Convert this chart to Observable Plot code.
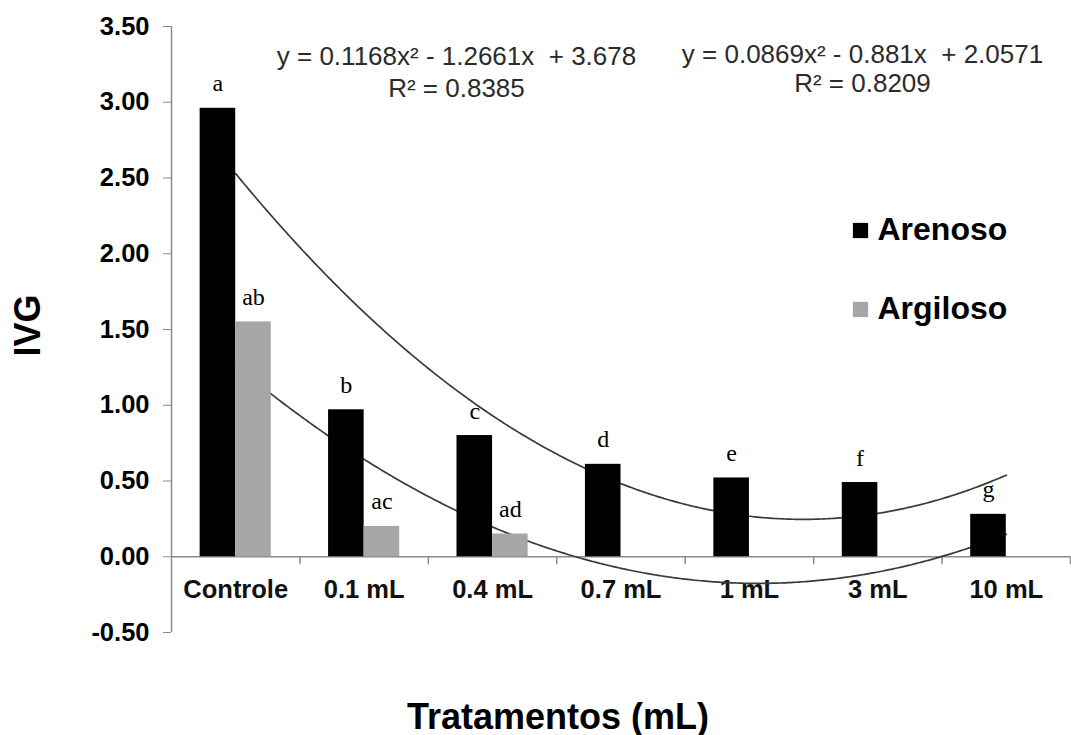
<!DOCTYPE html>
<html>
<head>
<meta charset="utf-8">
<script src="https://cdn.jsdelivr.net/npm/d3@7"></script>
<script src="https://cdn.jsdelivr.net/npm/@observablehq/plot@0.6"></script>
<style>
  html, body { margin: 0; padding: 0; background: #fff; }
  #chart svg { display: block; }
</style>
</head>
<body>
<div id="chart"></div>
<script>
// Treatments and IVG means for each soil type
const categories = ["Controle", "0.1 mL", "0.4 mL", "0.7 mL", "1 mL", "3 mL", "10 mL"];
const arenoso = [2.96, 0.97, 0.80, 0.61, 0.52, 0.49, 0.28];
const argiloso = [1.55, 0.20, 0.15, 0, 0, 0, 0];
const arenosoLetters = ["a", "b", "c", "d", "e", "f", "g"];
const argilosoLetters = ["ab", "ac", "ad", "", "", "", ""];
const seriesNames = ["Arenoso", "Argiloso"];
const seriesColors = ["#000000", "#a6a6a6"];
const yTicks = [-0.5, 0, 0.5, 1, 1.5, 2, 2.5, 3, 3.5];

// Quadratic trendlines [a, b, c] for y = a·x² + b·x + c, x = treatment index 1..7
const trendArenoso = [0.1168, -1.2661, 3.678];
const trendArgiloso = [0.0869, -0.881, 2.0571];
const eqArenoso = ["y = 0.1168x² - 1.2661x  + 3.678", "R² = 0.8385"];
const eqArgiloso = ["y = 0.0869x² - 0.881x  + 2.0571", "R² = 0.8209"];

// Each bar takes this share of a category slot; the pair meets at the slot centre
const barShare = 0.277;

const bars = categories.flatMap((c, i) => [
  {series: "Arenoso", pos: i + 1, x1: i + 1 - barShare, x2: i + 1, value: arenoso[i], letter: arenosoLetters[i]},
  {series: "Argiloso", pos: i + 1, x1: i + 1, x2: i + 1 + barShare, value: argiloso[i], letter: argilosoLetters[i]}
]);
const labels = bars.filter(d => d.letter);

const curve = ([a, b, c]) => d3.range(1, 7.0001, 0.02).map(x => ({x, y: a * x * x + b * x + c}));
const boundaries = d3.range(1.5, categories.length + 0.51, 1);

const sans = "'Liberation Sans', Arial, sans-serif";
const serif = "'Liberation Serif', 'Times New Roman', serif";
const axisGray = "#8a8a8a";

const legendMarks = seriesNames.flatMap((name, i) => [
  Plot.dot([name], {frameAnchor: "top-left", dx: 689, dy: 204 + i * 79, symbol: "square", r: 8.6, fill: seriesColors[i], stroke: "none"}),
  Plot.text([name], {frameAnchor: "top-left", dx: 706, dy: 213 + i * 79, text: d => d, textAnchor: "start", lineAnchor: "bottom", fontSize: 32, fontWeight: "bold", fill: "#000"})
]);

const eqMarks = [
  ...eqArenoso.map((t, j) => Plot.text([t], {frameAnchor: "top-left", dx: 285, dy: 38 + j * 32, text: d => d, textAnchor: "middle", lineAnchor: "bottom", fontSize: 26, fill: "#2b2b2b"})),
  ...eqArgiloso.map((t, j) => Plot.text([t], {frameAnchor: "top-left", dx: 691, dy: 36 + j * 29, text: d => d, textAnchor: "middle", lineAnchor: "bottom", fontSize: 26, fill: "#2b2b2b"}))
];

const chart = Plot.plot({
  width: 1071,
  height: 735,
  marginLeft: 171,
  marginRight: 1,
  marginTop: 26,
  marginBottom: 103,
  style: {fontFamily: sans, background: "#fff", color: "#000"},
  x: {domain: [0.5, categories.length + 0.5], axis: null},
  y: {domain: [-0.5, 3.5]},
  color: {domain: seriesNames, range: seriesColors},
  marks: [
    // vertical value axis
    Plot.ruleX([0.5], {stroke: axisGray, strokeWidth: 1.5}),
    Plot.axisY(yTicks, {
      tickSize: 8, tickPadding: 14, tickFormat: d => d.toFixed(2),
      fontSize: 25.5, fontWeight: "bold", stroke: axisGray, fill: "#000", label: null
    }),
    // category axis along zero
    Plot.ruleY([0], {stroke: axisGray, strokeWidth: 1.5}),
    Plot.ruleX(boundaries, {y1: 0, y2: 0, insetBottom: -8, stroke: axisGray, strokeWidth: 1.5}),
    Plot.text(categories, {x: (d, i) => i + 1, y: 0, text: d => d, dy: 41, lineAnchor: "bottom", fontSize: 25.5, fontWeight: "bold", fill: "#111"}),
    // polynomial trendlines (behind the bars)
    Plot.line(curve(trendArenoso), {x: "x", y: "y", stroke: "#3a3a3a", strokeWidth: 1.7, curve: "linear"}),
    Plot.line(curve(trendArgiloso), {x: "x", y: "y", stroke: "#3a3a3a", strokeWidth: 1.7, curve: "linear"}),
    // bars
    Plot.rect(bars, {x1: "x1", x2: "x2", y1: 0, y2: "value", fill: "series"}),
    // significance letters
    Plot.text(labels, {x: d => (d.x1 + d.x2) / 2, y: "value", text: "letter", dy: -17, lineAnchor: "bottom", fontFamily: serif, fontSize: 24, fill: "#000"}),
    ...eqMarks,
    ...legendMarks,
    // axis titles
    Plot.text(["IVG"], {frameAnchor: "left", dx: -143, dy: -4, rotate: -90, text: d => d, textAnchor: "middle", lineAnchor: "middle", fontSize: 36, fontWeight: "bold", fill: "#000"}),
    Plot.text(["Tratamentos (mL)"], {frameAnchor: "bottom", dx: -63, dy: 96, text: d => d, textAnchor: "middle", lineAnchor: "bottom", fontSize: 36, fontWeight: "bold", fill: "#000"})
  ]
});

document.getElementById("chart").appendChild(chart);
</script>
</body>
</html>
